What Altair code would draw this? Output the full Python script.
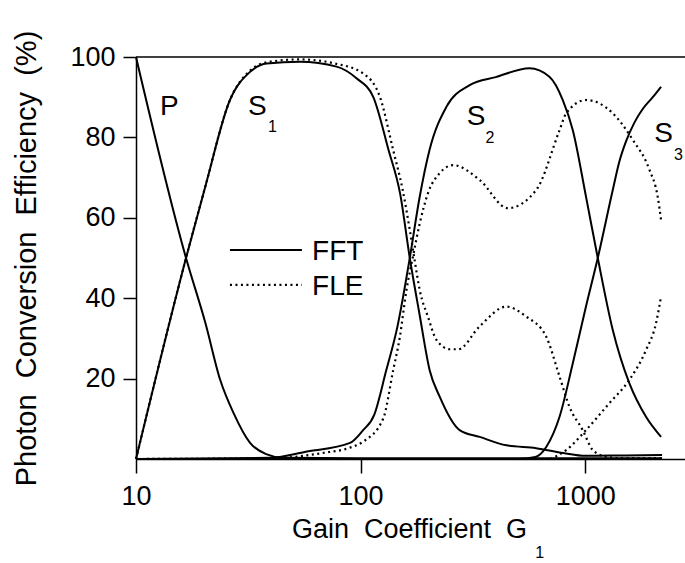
import altair as alt
import pandas as pd

# ---------------- data ----------------
P_X = [10, 16.7, 20.4, 23.7, 27.2, 32.2, 38, 45, 100, 1000, 2200]
P_Y = [100, 50, 33.7, 19.7, 11.4, 4, 1.2, 0.3, 0.2, 0.2, 0.2]

S1_FFT_X = [10, 16.7, 20.4, 26.2, 32.2, 38.2, 53.7, 78.2, 95.9, 113.8, 133, 150, 165.6, 183, 203, 225, 276, 339, 446, 605, 800, 1000, 1500, 2200]
S1_FFT_Y = [0, 50, 68, 89.3, 96.3, 98.4, 98.8, 97.6, 94.7, 90.1, 77, 66, 50, 36, 22.1, 15.5, 7.2, 5.5, 3.4, 2.7, 1.5, 0.8, 0.9, 1.0]

S2_FFT_X = [10, 40, 57, 89.7, 102, 115, 130, 146, 165.6, 183, 203, 241, 306, 400, 565, 693, 795, 881, 1009, 1138, 1327, 1574, 1866, 2177]
S2_FFT_Y = [0, 0.3, 1.8, 4, 7, 11, 22, 33, 50, 65, 77, 87.6, 93, 95, 97.2, 95.1, 89.3, 81.8, 65.2, 50, 32.1, 18.8, 10.5, 5.5]

S3_FFT_X = [10, 500, 600, 671, 769, 881, 1009, 1138, 1327, 1420, 1520, 1650, 1800, 2000, 2177]
S3_FFT_Y = [0, 0, 0.5, 3, 10.5, 23.8, 38, 50, 66.9, 74, 79, 83.5, 87, 90, 92.6]

S1_FLE_X = [10, 16.7, 20.4, 26.2, 32.2, 38.2, 53.7, 78, 102.7, 121.9, 139.6, 154, 165.6, 174, 183.4, 199.5, 217.8, 250, 272, 339, 445, 547, 671, 769, 851, 975, 1082, 1250, 1500, 2200]
S1_FLE_Y = [0, 50, 68, 89.3, 96.6, 98.7, 99.4, 98.3, 95.9, 90.1, 76.9, 66.9, 57, 49.5, 42, 35.4, 29.6, 27.3, 27.3, 33, 37.9, 35.4, 30.4, 20.5, 13, 7.2, 2.2, 0.5, 0.2, 0.2]

S2_FLE_X = [10, 40, 68, 89.5, 102, 126, 139.6, 149.6, 160, 171, 183.4, 199.5, 225, 258, 339, 452, 605, 769, 823, 1009, 1327, 1629, 1934, 2104, 2177]
S2_FLE_Y = [0, 0.2, 1.5, 2.8, 4.2, 10, 22, 30.4, 42, 50.3, 58.6, 66.1, 71.1, 73.1, 69.4, 62.4, 66.9, 81.8, 86, 89.3, 86, 79.4, 71.9, 65.2, 59.5]

S3_FLE_X = [700, 823, 1009, 1282, 1574, 1866, 2068, 2177]
S3_FLE_Y = [0, 2.2, 7.2, 13.9, 19.7, 27.1, 33.8, 40.4]

X_TICKS = [10, 100, 1000]
Y_TICKS = [20, 40, 60, 80, 100]

LABEL_TEXT = ["P", "S", "S", "S"]
LABEL_X = [12.8, 31.5, 297, 2028]
LABEL_Y = [85.6, 85.6, 83.1, 78.9]

SUB_TEXT = ["1", "2", "3", "1"]
SUB_X = [38.7, 360, 2489, 600]
SUB_Y = [81.3, 78.6, 74.4, -24.6]

LEGEND_TEXT = ["FFT", "FLE"]
LEGEND_X1 = [26.2, 26.2]
LEGEND_X2 = [54.8, 54.8]
LEGEND_Y = [52, 43.3]
LEGEND_TEXT_X = [60.8, 60.8]
LEGEND_TEXT_Y = [51.4, 42.8]

FONT = "Liberation Sans"
NB = "\u00a0"


def curve(name, xs, ys):
    return pd.DataFrame({"x": xs, "y": ys, "curve": name})


fft = pd.concat([
    curve("P", P_X, P_Y),
    curve("S1", S1_FFT_X, S1_FFT_Y),
    curve("S2", S2_FFT_X, S2_FFT_Y),
    curve("S3", S3_FFT_X, S3_FFT_Y),
])
fle = pd.concat([
    curve("S1", S1_FLE_X, S1_FLE_Y),
    curve("S2", S2_FLE_X, S2_FLE_Y),
    curve("S3", S3_FLE_X, S3_FLE_Y),
])

xscale = alt.Scale(type="log", domain=[10, 2783], nice=False)
yscale = alt.Scale(domain=[0, 100], nice=False, zero=False)

x_axis = alt.Axis(
    values=X_TICKS, format="d", tickSize=14, labelPadding=10, labelFontSize=27,
    labelFlush=False, labelOverlap=False,
    title="Gain" + NB * 2 + "Coefficient" + NB * 2 + "G", titleFontSize=27,
    titleFontWeight="normal",
    titleX=273, titleY=78, titleBaseline="alphabetic", titleAlign="center",
)
y_axis = alt.Axis(
    values=Y_TICKS, tickSize=13, labelPadding=8, labelFontSize=27,
    labelFlush=False, labelOverlap=False,
    title="Photon" + NB * 2 + "Conversion" + NB * 2 + "Efficiency" + NB * 2 + "(%)",
    titleFontSize=29, titleFontWeight="normal", titleAngle=270,
    titleX=-101, titleY=201, titleBaseline="alphabetic", titleAlign="center",
)

base_fft = alt.Chart(fft).mark_line(
    color="black", strokeWidth=2, interpolate="monotone"
).encode(
    x=alt.X("x:Q", scale=xscale, axis=x_axis),
    y=alt.Y("y:Q", scale=yscale, axis=y_axis),
    detail="curve:N",
)

base_fle = alt.Chart(fle).mark_line(
    color="black", strokeWidth=2.2, strokeDash=[2, 3.5], interpolate="monotone"
).encode(
    x=alt.X("x:Q", scale=xscale),
    y=alt.Y("y:Q", scale=yscale),
    detail="curve:N",
)

top_rule = alt.Chart(pd.DataFrame({"y": [100]})).mark_rule(
    color="black", strokeWidth=1.5
).encode(y=alt.Y("y:Q", scale=yscale))

labels = alt.Chart(pd.DataFrame({"t": LABEL_TEXT, "x": LABEL_X, "y": LABEL_Y})).mark_text(
    font=FONT, fontSize=28, align="left", baseline="alphabetic", color="black"
).encode(x=alt.X("x:Q", scale=xscale), y=alt.Y("y:Q", scale=yscale), text="t:N")

subs = alt.Chart(pd.DataFrame({"t": SUB_TEXT, "x": SUB_X, "y": SUB_Y})).mark_text(
    font=FONT, fontSize=16, align="left", baseline="alphabetic", color="black"
).encode(x=alt.X("x:Q", scale=xscale), y=alt.Y("y:Q", scale=yscale), text="t:N")

leg_df = pd.DataFrame({
    "t": LEGEND_TEXT, "x1": LEGEND_X1, "x2": LEGEND_X2, "y": LEGEND_Y,
    "tx": LEGEND_TEXT_X, "ty": LEGEND_TEXT_Y,
})
leg_solid = alt.Chart(leg_df.iloc[[0]]).mark_rule(color="black", strokeWidth=2).encode(
    x=alt.X("x1:Q", scale=xscale), x2="x2:Q", y=alt.Y("y:Q", scale=yscale)
)
leg_dot = alt.Chart(leg_df.iloc[[1]]).mark_rule(
    color="black", strokeWidth=2.2, strokeDash=[2, 3.5]
).encode(
    x=alt.X("x1:Q", scale=xscale), x2="x2:Q", y=alt.Y("y:Q", scale=yscale)
)
leg_text = alt.Chart(leg_df).mark_text(
    font=FONT, fontSize=28, align="left", baseline="middle", color="black"
).encode(x=alt.X("tx:Q", scale=xscale), y=alt.Y("ty:Q", scale=yscale), text="t:N")

chart = alt.layer(
    base_fft, base_fle, top_rule, labels, subs, leg_solid, leg_dot, leg_text
).properties(
    width=549, height=402,
    padding={"left": 136, "top": 57, "right": 0, "bottom": 104},
    autosize=alt.AutoSizeParams(type="none"),
    background="white",
).configure_view(stroke=None).configure_axis(
    grid=False, domainColor="black", domainWidth=1.5, tickColor="black",
    tickWidth=1.5, labelColor="black", titleColor="black",
    labelFont=FONT, titleFont=FONT,
)

chart.save("out.html", embed_options={"renderer": "svg", "actions": False})
